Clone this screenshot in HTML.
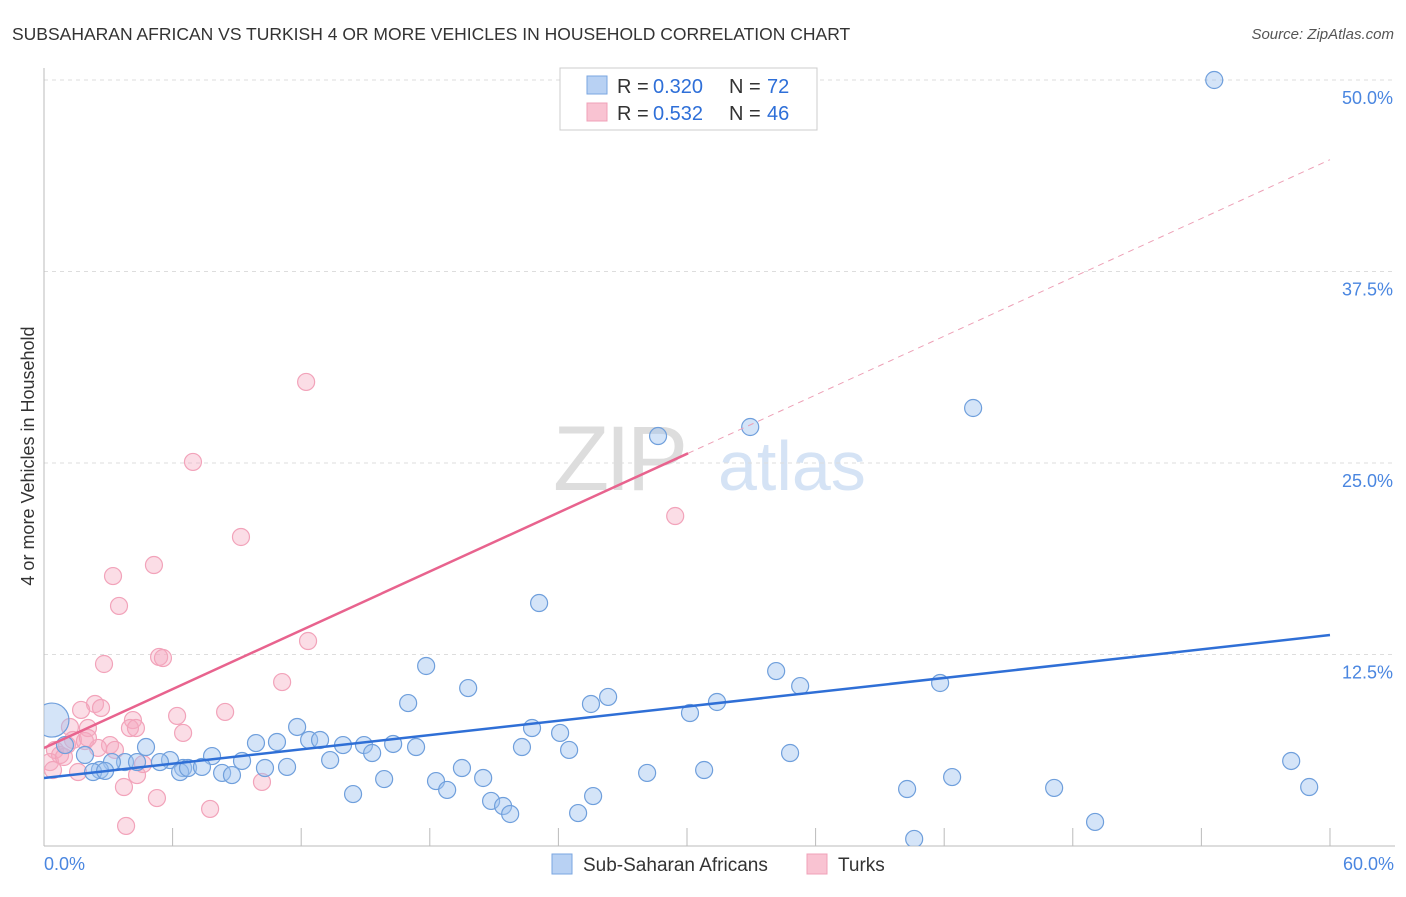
<!DOCTYPE html>
<html><head><meta charset="utf-8"><style>
body{margin:0;background:#fff;font-family:"Liberation Sans",sans-serif;}
svg text{font-family:"Liberation Sans",sans-serif;}
</style></head><body>
<svg id="c" width="1406" height="892">
<defs><clipPath id="pc"><rect x="44" y="60" width="1360" height="786"/></clipPath></defs>
<text x="12" y="40" font-size="17.5" fill="#333">SUBSAHARAN AFRICAN VS TURKISH 4 OR MORE VEHICLES IN HOUSEHOLD CORRELATION CHART</text>
<text x="1394" y="39" font-size="15" fill="#555" text-anchor="end" font-style="italic">Source: ZipAtlas.com</text>
<text x="34" y="456" font-size="18" fill="#333" text-anchor="middle" transform="rotate(-90 34 456)">4 or more Vehicles in Household</text>
<g><text x="553" y="490" font-size="92" fill="#ddd" font-family="Liberation Serif" letter-spacing="-4">ZIP</text><text x="718" y="490" font-size="70" fill="#d5e3f5">atlas</text></g>
<g id="grid"></g><g id="marks" clip-path="url(#pc)"></g>
<g>
<rect x="560" y="68" width="257" height="62" fill="#fff" stroke="#ccc"/>
<rect x="587" y="76" width="20" height="18" fill="#b8d1f3" stroke="#7aa6e0"/>
<rect x="587" y="103" width="20" height="18" fill="#f9c3d2" stroke="#f0a0b8"/>
<text x="617" y="93" font-size="20" fill="#333">R =</text><text x="653" y="93" font-size="20" fill="#2e6fd8">0.320</text>
<text x="729" y="93" font-size="20" fill="#333">N =</text><text x="767" y="93" font-size="20" fill="#2e6fd8">72</text>
<text x="617" y="120" font-size="20" fill="#333">R =</text><text x="653" y="120" font-size="20" fill="#2e6fd8">0.532</text>
<text x="729" y="120" font-size="20" fill="#333">N =</text><text x="767" y="120" font-size="20" fill="#2e6fd8">46</text>
</g>
<g>
<rect x="552" y="854" width="20" height="20" fill="#b8d1f3" stroke="#7aa6e0"/>
<text x="583" y="871" font-size="19" fill="#333">Sub-Saharan Africans</text>
<rect x="807" y="854" width="20" height="20" fill="#f9c3d2" stroke="#f0a0b8"/>
<text x="838" y="871" font-size="19" fill="#333">Turks</text>
</g>
</svg>
<script>
const xTicks=[0,6,12,18,24,30,36,42,48,54,60];
const yTicks=[12.5,25,37.5,50];
const yTickLabels=["12.5%","25.0%","37.5%","50.0%"];
const xLabels=["0.0%","60.0%"];
const blueX=[54.6,43.35,32.95,28.65,23.1,17.83,19.79,26.32,25.52,16.99,34.16,35.28,41.81,31.4,30.14,22.77,24.08,11.81,12.37,12.88,10.87,9.89,7.84,9.24,6.49,4.76,5.88,5.41,3.78,4.34,3.17,1.91,0.98,2.61,2.29,2.85,6.35,6.72,7.37,8.31,8.77,10.31,11.34,13.35,13.95,14.93,15.31,16.29,17.36,22.3,24.5,19.5,20.49,18.29,15.87,18.81,20.86,21.42,21.75,24.92,25.62,14.42,28.14,30.8,34.81,40.27,42.37,47.13,49.04,58.19,59.03,40.6];
const blueY=[50.0,28.59,27.35,26.76,15.86,11.75,10.31,9.73,9.27,9.33,11.42,10.44,10.64,9.4,8.68,7.7,7.38,7.77,6.92,6.92,6.79,6.72,5.87,5.55,5.09,6.46,5.61,5.48,5.48,5.48,5.48,5.94,6.59,4.96,4.83,4.9,4.83,5.09,5.16,4.77,4.63,5.09,5.16,5.61,6.59,6.59,6.07,6.66,6.46,6.46,6.27,5.09,4.44,4.24,4.37,3.66,2.94,2.61,2.09,2.15,3.26,3.39,4.77,4.96,6.07,3.72,4.5,3.79,1.57,5.55,3.85,0.46];
const bigX=[0.37],bigY=[8.22];
const pinkX=[12.23,6.95,9.19,29.45,5.13,3.22,3.5,12.32,5.37,5.55,2.8,11.11,2.38,1.73,2.66,8.45,6.21,4.15,1.21,2.05,4.01,4.29,6.49,1.35,1.91,3.08,3.31,0.51,0.75,0.28,0.93,1.59,0.42,4.34,4.62,3.73,5.27,7.75,3.83,10.17,2.52,1.07,2.05];
const pinkY=[30.29,25.07,20.17,21.54,18.34,17.62,15.67,13.38,12.34,12.27,11.88,10.7,9.27,8.88,9.01,8.75,8.49,8.22,7.77,7.7,7.7,7.7,7.38,6.92,6.85,6.59,6.27,6.27,5.94,5.48,5.81,4.83,4.96,4.63,5.35,3.85,3.13,2.42,1.31,4.18,6.4,6.59,7.05];
const blueTrend=[4.44,13.77];
const pinkTrend=[6.4,0.64]; const pinkSolidEnd=30.05;
const X=v=>44+v*21.433, Y=v=>846-v*15.32;
const NS="http://www.w3.org/2000/svg";
function mk(t,a,p){const e=document.createElementNS(NS,t);for(const k in a)e.setAttribute(k,a[k]);p.appendChild(e);return e;}
const g=document.getElementById('grid'),m=document.getElementById('marks');
yTicks.forEach((t,i)=>{
 const l=mk('line',{x1:44,x2:1395,y1:Y(t),y2:Y(t),stroke:'#ddd','stroke-dasharray':'4,4'},g);
 
 
 const tx=mk('text',{x:1393,y:Y(t)+24,'font-size':18,fill:'#4a86e0','text-anchor':'end'},g);tx.textContent=yTickLabels[i];
 
 
});
mk('line',{x1:44,x2:44,y1:68,y2:846,stroke:'#bbb'},g);
mk('line',{x1:44,x2:1395,y1:846,y2:846,stroke:'#bbb'},g);
xTicks.forEach(t=>{const l=mk('line',{x1:X(t),x2:X(t),y1:828,y2:846,stroke:'#bbb'},g);
 
 });
[[0,'start',44],[60,'end',1394]].forEach((a,i)=>{const tx=mk('text',{x:a[2],y:870,'font-size':18,fill:'#4a86e0','text-anchor':a[1]},g);tx.textContent=xLabels[i];
 
 });
pinkX.forEach((x,i)=>{const c=mk('circle',{cx:X(x),cy:Y(pinkY[i]),r:8.5,fill:'rgba(246,170,192,0.4)',stroke:'#f2a3ba','stroke-width':1.2},m);
 
 });
blueX.forEach((x,i)=>{const c=mk('circle',{cx:X(x),cy:Y(blueY[i]),r:8.5,fill:'rgba(160,196,240,0.45)',stroke:'#6f9fdc','stroke-width':1.2},m);
 
 });
bigX.forEach((x,i)=>{const c=mk('circle',{cx:X(x),cy:Y(bigY[i]),r:17,fill:'rgba(160,196,240,0.45)',stroke:'#6f9fdc','stroke-width':1.2},m);
 
 });
let l=mk('line',{x1:X(0),y1:Y(blueTrend[0]),x2:X(60),y2:Y(blueTrend[1]),stroke:'#2f6fd6','stroke-width':2.5},m);


l=mk('line',{x1:X(0),y1:Y(pinkTrend[0]),x2:X(pinkSolidEnd),y2:Y(pinkTrend[0]+pinkTrend[1]*pinkSolidEnd),stroke:'#e8638e','stroke-width':2.5},m);


l=mk('line',{x1:X(pinkSolidEnd),y1:Y(pinkTrend[0]+pinkTrend[1]*pinkSolidEnd),x2:X(60),y2:Y(pinkTrend[0]+pinkTrend[1]*60),stroke:'#eda0b6','stroke-width':1,'stroke-dasharray':'6,5'},m);


</script>
</body></html>
